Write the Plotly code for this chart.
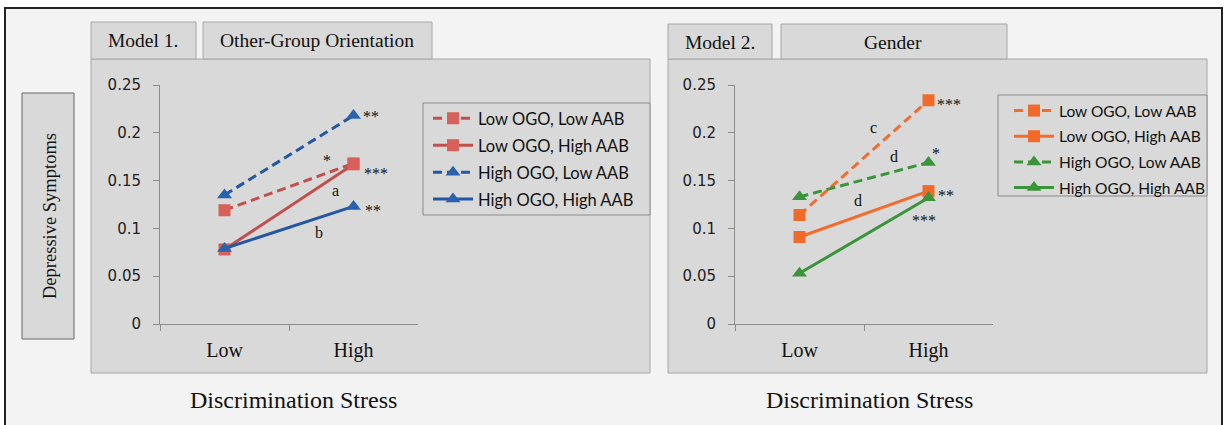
import plotly.graph_objects as go

W, H = 1225, 425

stress = ["Low", "High"]
series_names = ["Low OGO, Low AAB", "Low OGO, High AAB", "High OGO, Low AAB", "High OGO, High AAB"]
model1_values = [
    [0.119, 0.168],
    [0.078, 0.167],
    [0.135, 0.218],
    [0.079, 0.123],
]
model2_values = [
    [0.114, 0.234],
    [0.091, 0.139],
    [0.133, 0.169],
    [0.053, 0.132],
]
y_ticks = [0, 0.05, 0.1, 0.15, 0.2, 0.25]
y_tick_labels = ["0", "0.05", "0.1", "0.15", "0.2", "0.25"]

SERIF = "Liberation Serif, Times New Roman, serif"
SANS = "DejaVu Sans, sans-serif"
LEG = "Lato, Open Sans, sans-serif"

def px(x):
    return x / W

def py(y):
    return 1 - y / H

styles1 = [
    dict(line="#c0504d", marker="#d9605a", dash="9px,5px", symbol="square"),
    dict(line="#c0504d", marker="#d9605a", dash="solid", symbol="square"),
    dict(line="#2457a0", marker="#2a62ad", dash="9px,5px", symbol="triangle-up"),
    dict(line="#2457a0", marker="#2a62ad", dash="solid", symbol="triangle-up"),
]
styles2 = [
    dict(line="#f26d2d", marker="#f26a2a", dash="9px,5px", symbol="square"),
    dict(line="#f26d2d", marker="#f26a2a", dash="solid", symbol="square"),
    dict(line="#3a953a", marker="#3a953a", dash="9px,5px", symbol="triangle-up"),
    dict(line="#3a953a", marker="#3a953a", dash="solid", symbol="triangle-up"),
]

fig = go.Figure()
for i, name in enumerate(series_names):
    s = styles1[i]
    fig.add_trace(go.Scatter(
        x=stress, y=model1_values[i], name=name, mode="lines+markers",
        xaxis="x", yaxis="y", legend="legend", legendgroup="m1_%d" % i,
        line=dict(color=s["line"], width=3, dash=s["dash"]),
        marker=dict(color=s["marker"], symbol=s["symbol"], size=13 if s["symbol"] != "square" else 12),
    ))
for i, name in enumerate(series_names):
    s = styles2[i]
    fig.add_trace(go.Scatter(
        x=stress, y=model2_values[i], name=name, mode="lines+markers",
        xaxis="x2", yaxis="y2", legend="legend2", legendgroup="m2_%d" % i,
        line=dict(color=s["line"], width=3, dash=s["dash"]),
        marker=dict(color=s["marker"], symbol=s["symbol"], size=13 if s["symbol"] != "square" else 12),
    ))

shapes = []
def rect(x0, y0, x1, y1, fill, line, lw=1):
    shapes.append(dict(type="rect", xref="paper", yref="paper", layer="below",
                       x0=px(x0), x1=px(x1), y0=py(y1), y1=py(y0),
                       fillcolor=fill, line=dict(color=line, width=lw)))

rect(5, 8, 1222, 445, "#f3f3f3", "#222222", 2)
rect(91, 59, 650, 373, "#d9d9d9", "#a6a6a6")
rect(668, 59, 1207, 373, "#d9d9d9", "#a6a6a6")
rect(91, 22, 196, 59, "#d9d9d9", "#a6a6a6")
rect(203, 22, 432, 59, "#d9d9d9", "#a6a6a6")
rect(668, 24, 772, 59, "#d9d9d9", "#a6a6a6")
rect(781, 24, 1007, 59, "#d9d9d9", "#a6a6a6")
rect(22, 93, 74, 339, "#d9d9d9", "#666666")
rect(423, 103, 650, 215, "#d9d9d9", "#8a8a8a")
rect(998, 95, 1207, 196, "#d9d9d9", "#8a8a8a")

annotations = []
def label(x, y, text, size=17, font=SERIF, angle=0):
    annotations.append(dict(xref="paper", yref="paper", x=px(x), y=py(y), text=text,
                            showarrow=False, xanchor="center", yanchor="middle",
                            textangle=angle, font=dict(family=font, size=size, color="#111")))

label(143, 41, "Model 1.", size=19.5)
label(317, 41, "Other-Group Orientation", size=19.5)
label(720, 42, "Model 2.", size=19.5)
label(893, 42, "Gender", size=19.5)
label(50, 216, "Depressive Symptoms", size=18.5, angle=-90)
label(293, 400, "Discrimination Stress", size=24)
label(869, 400, "Discrimination Stress", size=24)

def mark(ax, series_vals, idx, text, dx, dy, star=True):
    annotations.append(dict(xref=ax, yref="y" if ax == "x" else "y2",
                            x="High", y=series_vals[idx][1], text=text, showarrow=False,
                            xshift=dx, yshift=dy, xanchor="center", yanchor="middle",
                            font=dict(family=SERIF, size=16, color="#111")))

mark("x", model1_values, 2, "**", 17, -1)
mark("x", model1_values, 0, "***", 22, -10)
mark("x", model1_values, 0, "*", -27, 3)
mark("x", model1_values, 1, "a", -18, -26, star=False)
mark("x", model1_values, 3, "**", 19, -4)
mark("x", model1_values, 3, "b", -35, -26, star=False)

mark("x2", model2_values, 0, "***", 20, -4)
mark("x2", model2_values, 0, "c", -55, -27, star=False)
mark("x2", model2_values, 2, "d", -35, 6, star=False)
mark("x2", model2_values, 2, "*", 7, 9)
mark("x2", model2_values, 1, "d", -71, -9, star=False)
mark("x2", model2_values, 1, "**", 17, -4)
mark("x2", model2_values, 3, "***", -5, -23)

xax = dict(type="category", range=[-0.5, 1.5], showline=True, linecolor="#8c8c8c", linewidth=1,
           ticks="outside", tickson="boundaries", ticklen=6, tickcolor="#8c8c8c",
           showgrid=False, zeroline=False, fixedrange=True, ticklabelstandoff=8, automargin=False,
           tickfont=dict(family=SERIF, size=20, color="#111"))
yax = dict(range=[0, 0.25], tickvals=y_ticks, ticktext=y_tick_labels, showline=True,
           linecolor="#8c8c8c", linewidth=1, ticks="outside", ticklen=6, tickcolor="#8c8c8c",
           showgrid=False, zeroline=False, fixedrange=True, ticklabelstandoff=9, automargin=False,
           tickfont=dict(family=SANS, size=15, color="#222"))

ydom = [py(324), py(85)]
fig.update_layout(
    width=W, height=H, margin=dict(l=0, r=0, t=0, b=0, pad=0, autoexpand=False),
    paper_bgcolor="white", plot_bgcolor="white",
    xaxis=dict(xax, domain=[px(160), px(418)], anchor="y"),
    yaxis=dict(yax, domain=ydom, anchor="x"),
    xaxis2=dict(xax, domain=[px(735), px(993)], anchor="y2"),
    yaxis2=dict(yax, domain=ydom, anchor="x2"),
    legend=dict(x=px(428), y=py(101), xanchor="left", yanchor="top", bgcolor="rgba(0,0,0,0)",
                font=dict(family=LEG, size=16.5, color="#111"), tracegroupgap=2.5, itemwidth=40),
    legend2=dict(x=px(1009), y=py(94), xanchor="left", yanchor="top", bgcolor="rgba(0,0,0,0)",
                 font=dict(family=LEG, size=15.5, color="#111"), tracegroupgap=2.5, itemwidth=40),
    shapes=shapes, annotations=annotations, showlegend=True,
)

post = (
    "document.documentElement.style.margin='0';"
    "document.documentElement.style.overflow='hidden';"
    "document.body.style.margin='0';"
    "document.body.style.overflow='hidden';"
    "var gd=document.getElementsByClassName('plotly-graph-div')[0];"
    "gd.style.position='fixed';gd.style.top='0px';gd.style.left='0px';"
)
fig.write_html("out.html", config={"displayModeBar": False}, post_script=post)
